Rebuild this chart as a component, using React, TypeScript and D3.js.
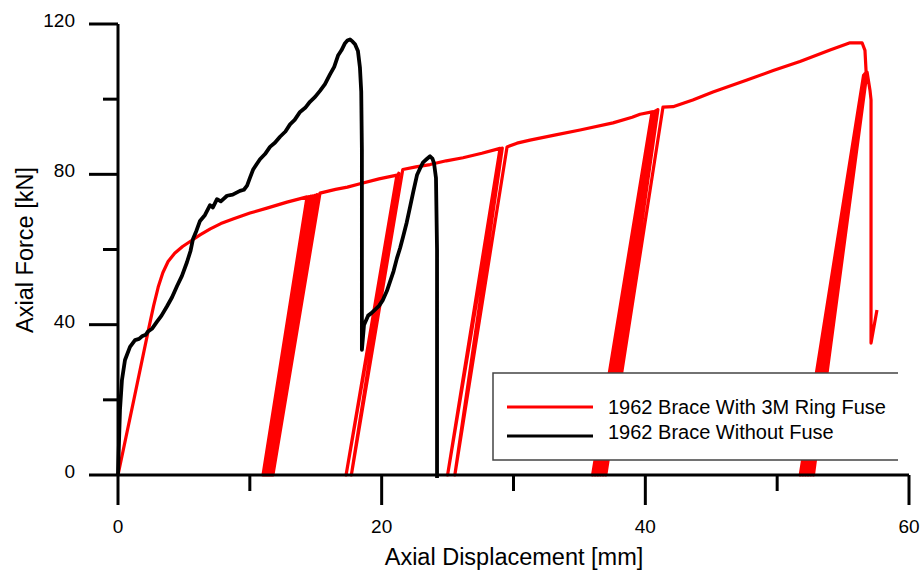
import React from 'react';
import * as d3 from 'd3';

// axis ticks
const xMajorTicks = [0, 20, 40, 60];
const xMinorTicks = [10, 30, 50];
const yMajorTicks = [0, 40, 80, 120];
const yMinorTicks = [20, 60, 100];

// 1962 brace with 3M ring fuse: [displacement mm, force kN]
const fuseBrace: [number, number][] = [
  [0, 0], [1.2, 20], [2.3, 38.5], [2.7, 45.0], [3.05, 50.0], [3.4, 53.8], [3.8, 56.8], [4.3, 59.0],
  [4.9, 60.8], [5.5, 62.2], [6.22, 63.9], [7.0, 65.5], [7.8, 66.9], [8.72, 68.1], [10.01, 69.7],
  [11.3, 71.0], [12.82, 72.6], [14.34, 74.0],
  // cycles 1
  [11.0, 0], [14.5, 74.1], [11.15, 0], [14.65, 74.2], [11.3, 0], [14.8, 74.3], [11.45, 0], [14.95, 74.4],
  [11.6, 0], [15.1, 74.6], [11.75, 0], [15.32, 75.0],
  [16.5, 76.0], [17.4, 76.6], [18.36, 77.5], [19.8, 78.8], [21.16, 79.8],
  // cycles 2
  [17.3, 0], [21.3, 80.3], [17.7, 0], [21.6, 81.3],
  [22.6, 82.0], [23.67, 82.6], [24.9, 83.6], [26.17, 84.4], [27.6, 85.6], [28.98, 86.9],
  // cycles 3
  [25.0, 0], [29.15, 87.0], [25.55, 0], [29.51, 87.3],
  [30.27, 88.3], [31.25, 89.1], [33.2, 90.5], [35.05, 91.8], [37.55, 93.7], [39.0, 95.2], [39.6, 96.0], [40.51, 96.6],
  // cycles 4
  [36.0, 0], [40.58, 96.6], [36.2, 0], [40.66, 96.7], [36.4, 0], [40.75, 96.8], [36.6, 0], [40.85, 97.0],
  [36.8, 0], [40.95, 97.2], [37.0, 0], [41.34, 97.9],
  [42.1, 98.0], [43.6, 99.8], [45.13, 101.9], [47.71, 105.1], [49.7, 107.6], [51.73, 110.0], [54.01, 113.1],
  [55.53, 115.0], [56.44, 115.0], [56.66, 113.0], [56.75, 107.0],
  // cycles 5
  [51.75, 0], [56.55, 106.3], [51.95, 0], [56.6, 106.5], [52.15, 0], [56.65, 106.7], [52.35, 0], [56.7, 106.9],
  [52.55, 0], [56.75, 107.0], [52.75, 0], [56.82, 107.2],
  // fracture
  [57.04, 102.4], [57.12, 99.8], [57.12, 35.1], [57.57, 43.9],
];

// 1962 brace without fuse
const plainBrace: [number, number][] = [
  [0, 0], [0.08, 9.3], [0.15, 17.3], [0.3, 25.3], [0.53, 30.6], [0.91, 34.1], [1.29, 35.9], [1.6, 36.2],
  [1.82, 36.9], [2.1, 37.3], [2.28, 38.2], [2.6, 39.0], [2.96, 40.8], [3.3, 42.4], [3.72, 44.9],
  [4.1, 47.3], [4.48, 50.3], [4.85, 53.0], [5.23, 56.6], [5.5, 59.6], [5.69, 62.8], [5.95, 65.0],
  [6.22, 67.6], [6.6, 69.2], [6.98, 71.8], [7.2, 71.2], [7.51, 73.4], [7.8, 72.8], [8.27, 74.3],
  [8.7, 74.6], [9.25, 75.6], [9.55, 75.9], [9.79, 77.0], [10.0, 79.0], [10.24, 81.2], [10.5, 82.6],
  [10.77, 84.0], [11.15, 85.4], [11.53, 87.3], [11.9, 88.4], [12.29, 90.0], [12.7, 91.4], [13.05, 93.3],
  [13.4, 94.5], [13.81, 96.6], [14.2, 97.7], [14.56, 99.3], [14.95, 100.6], [15.32, 102.2], [15.7, 104.0],
  [16.08, 106.6], [16.4, 108.6], [16.69, 111.6], [16.95, 113.0], [17.22, 114.9], [17.4, 115.6], [17.6, 115.9],
  [17.8, 115.3], [17.98, 114.6], [18.2, 112.8], [18.35, 108.5], [18.45, 102.0], [18.5, 86.5],
  [18.5, 33.3], [18.66, 39.9], [18.97, 42.4], [19.2, 43.0], [19.5, 44.0], [19.8, 45.0], [20.1, 46.6],
  [20.4, 49.0], [20.63, 51.4], [20.9, 54.2], [21.16, 57.7], [21.4, 60.4], [21.62, 63.3], [21.9, 67.2],
  [22.15, 71.3], [22.4, 75.4], [22.68, 79.8], [22.9, 81.5], [23.14, 83.2], [23.4, 84.0], [23.67, 84.8],
  [23.85, 84.2], [23.97, 83.0], [24.12, 79.0], [24.2, 59.9], [24.2, -0.8],
];

const legendLabels = ['1962 Brace With 3M Ring Fuse', '1962 Brace Without Fuse'];
const legendColors = ['#ff0000', '#000000'];

const W = 922;
const H = 570;
const FONT = 'Arial, "Liberation Sans", sans-serif';

export default function App() {
  const x = d3.scaleLinear().domain([0, 60]).range([118, 909]);
  const y = d3.scaleLinear().domain([0, 120]).range([475, 24]);
  const line = d3.line<[number, number]>().x(d => x(d[0])).y(d => y(d[1]));

  const lx = 493, ly = 373, lw = 405, lh = 87;

  return (
    <svg width={W} height={H} style={{ position: 'absolute', left: 0, top: 0, background: '#fff' }}>
      <path d={line(fuseBrace) || ''} fill="none" stroke="#ff0000" strokeWidth={3.2} strokeLinejoin="round" />
      <path d={line(plainBrace) || ''} fill="none" stroke="#000" strokeWidth={3.8} strokeLinejoin="round" />

      {/* axes */}
      <line x1={x(0)} x2={x(0)} y1={y(120)} y2={y(0)} stroke="#000" strokeWidth={3} />
      <line x1={x(0)} x2={x(60)} y1={y(0)} y2={y(0)} stroke="#000" strokeWidth={3} />
      {yMajorTicks.map(t => (
        <g key={'ym' + t}>
          <line x1={x(0) - 29} x2={x(0)} y1={y(t)} y2={y(t)} stroke="#000" strokeWidth={3} />
          <text x={75} y={y(t) + 3} textAnchor="end" fontFamily={FONT} fontSize={19}>{t}</text>
        </g>
      ))}
      {yMinorTicks.map(t => (
        <line key={'yn' + t} x1={x(0) - 15} x2={x(0)} y1={y(t)} y2={y(t)} stroke="#000" strokeWidth={3} />
      ))}
      {xMajorTicks.map(t => (
        <g key={'xm' + t}>
          <line x1={x(t)} x2={x(t)} y1={y(0)} y2={y(0) + 30} stroke="#000" strokeWidth={3} />
          <text x={x(t)} y={533} textAnchor="middle" fontFamily={FONT} fontSize={19}>{t}</text>
        </g>
      ))}
      {xMinorTicks.map(t => (
        <line key={'xn' + t} x1={x(t)} x2={x(t)} y1={y(0)} y2={y(0) + 16} stroke="#000" strokeWidth={3} />
      ))}

      <text x={514} y={565} textAnchor="middle" fontFamily={FONT} fontSize={23.5}>Axial Displacement [mm]</text>
      <text transform="translate(33,250) rotate(-90)" textAnchor="middle" fontFamily={FONT} fontSize={23.5}>Axial Force [kN]</text>

      {/* legend */}
      <rect x={lx} y={ly} width={lw} height={lh} fill="#fff" />
      <path d={`M${lx + lw},${ly}H${lx}V${ly + lh}H${lx + lw}`} fill="none" stroke="#444" strokeWidth={1.5} />
      {legendLabels.map((lab, i) => (
        <g key={lab}>
          <line x1={507} x2={593} y1={407 + i * 29} y2={407 + i * 29} stroke={legendColors[i]} strokeWidth={3} />
          <text x={608} y={414 + i * 25} fontFamily={FONT} fontSize={20}>{lab}</text>
        </g>
      ))}
    </svg>
  );
}
